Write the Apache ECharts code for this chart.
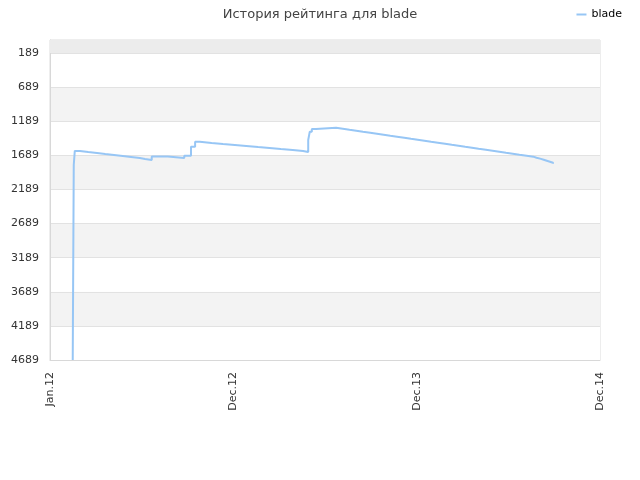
<!DOCTYPE html>
<html><head><meta charset="utf-8">
<script src="https://cdn.jsdelivr.net/npm/echarts@6/dist/echarts.min.js"></script>
<style>html,body{margin:0;padding:0;background:#fff}#c{width:640px;height:480px}</style>
</head><body><div id="c"></div>
<script>
// x position in days from the start of the axis (Jan.12 = 0, Dec.14 = 1065)
const days = [44, 46, 48, 58, 74, 91, 107, 124, 141, 157, 174, 184, 197, 228, 260, 273, 281, 290, 313, 335, 358, 380, 403, 425, 447, 470, 490, 500, 503, 507, 515, 554, 567, 580, 593, 606, 620, 633, 646, 659, 672, 686, 699, 712, 725, 738, 751, 765, 778, 791, 804, 817, 830, 844, 857, 870, 883, 896, 909, 923, 936, 942, 949, 956, 962, 968, 974];
const ratings = [4689, 1831, 1625, 1640, 1655, 1670, 1684, 1699, 1713, 1728, 1743, 1757, 1708, 1728, 1695, 1562, 1489, 1508, 1523, 1538, 1552, 1567, 1581, 1596, 1610, 1625, 1640, 1464, 1343, 1303, 1284, 1299, 1314, 1328, 1343, 1358, 1372, 1387, 1402, 1416, 1431, 1446, 1460, 1475, 1490, 1504, 1519, 1534, 1548, 1563, 1577, 1592, 1607, 1621, 1636, 1651, 1665, 1680, 1695, 1709, 1724, 1738, 1753, 1768, 1783, 1798, 1812];
const xLabels = ['Jan.12', 'Dec.12', 'Dec.13', 'Dec.14'];
const yBase = 4689; // rating at bottom of axis
const seriesName = 'blade';
const titleText = 'История рейтинга для blade';

const data = days.map((d, i) => [d, yBase - ratings[i]]);
const chart = echarts.init(document.getElementById('c'));
chart.setOption({
  animation: false,
  backgroundColor: '#fff',
  title: { text: titleText, left: 'center', top: 3, textStyle: { fontFamily: 'DejaVu Sans', fontSize: 13, fontWeight: 'normal', color: '#444' } },
  legend: { right: 13, top: 4, itemWidth: 10, itemHeight: 2, itemGap: 8, icon: 'rect',
    textStyle: { fontFamily: 'DejaVu Sans', fontSize: 11, color: '#000' }, data: [seriesName] },
  grid: { left: 50, right: 40, top: 40, bottom: 120, show: true, borderColor: '#dcdcdc', borderWidth: 1 },
  xAxis: { type: 'value', min: 0, max: 1065, interval: 355,
    axisLine: { show: true, lineStyle: { color: '#d8d8d8' } }, axisTick: { show: false }, splitLine: { show: false },
    axisLabel: { rotate: 90, margin: 12, fontFamily: 'DejaVu Sans', fontSize: 11, color: '#333',
      formatter: v => xLabels[Math.round(v / 355)] || '' } },
  yAxis: { type: 'value', min: 0, max: 4690, interval: 500,
    axisLine: { show: true, lineStyle: { color: '#d8d8d8' } }, axisTick: { show: false },
    splitLine: { show: true, lineStyle: { color: '#e2e2e2' } },
    splitArea: { show: true, areaStyle: { color: ['#ffffff', '#f3f3f3'] } },
    axisLabel: { margin: 11, fontFamily: 'DejaVu Sans', fontSize: 11, color: '#333', showMaxLabel: false,
      formatter: v => (v % 500 === 0 ? String(yBase - v) : '') } },
  series: [{
    name: seriesName, type: 'line', step: 'end', showSymbol: false, data: data,
    lineStyle: { color: '#97c6f5', width: 2 }, itemStyle: { color: '#97c6f5' },
    markArea: { silent: true, itemStyle: { color: '#ececec' }, data: [[{ yAxis: 4500 }, { yAxis: 4690 }]] }
  }]
});
</script></body></html>
